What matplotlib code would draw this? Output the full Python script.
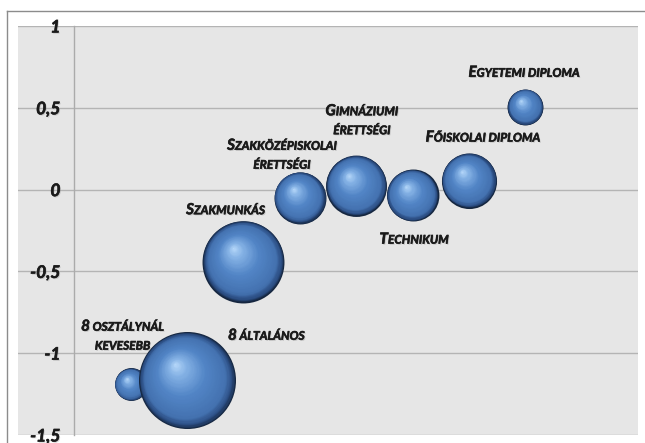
import matplotlib
matplotlib.use("Agg")
import matplotlib.pyplot as plt
import numpy as np
from matplotlib.transforms import offset_copy
from matplotlib.offsetbox import TextArea, HPacker, VPacker, AnnotationBbox
from matplotlib.lines import Line2D
from matplotlib.colors import LinearSegmentedColormap
import matplotlib.patheffects as pe

# ---- data ----
categories = ["8 osztálynál\nkevesebb", "8 általános", "Szakmunkás",
              "Szakközépiskolai\nérettségi", "Gimnáziumi\nérettségi",
              "Technikum", "Főiskolai diploma", "Egyetemi diploma"]
x_values = [1, 2, 3, 4, 5, 6, 7, 8]
y_values = [-1.19, -1.165, -0.44, -0.05, 0.025, -0.034, 0.055, 0.506]
bubble_sizes = [3.5, 30.7, 21.9, 8.8, 12.1, 8.8, 9.9, 4.2]
y_ticks = [-1.5, -1, -0.5, 0, 0.5, 1]
y_tick_labels = ["-1,5", "-1", "-0,5", "0", "0,5", "1"]

# label offsets (points) relative to bubble centre
label_offsets = [(-6, 35), (57, 32), (-13, 37), (-13, 31), (4, 47),
                 (1, -32), (10, 31), (-1, 24.5)]

W, H, DPI = 645, 443, 100
fig = plt.figure(figsize=(W / DPI, H / DPI), dpi=DPI)
fig.patch.set_facecolor("white")
ax = fig.add_axes([18 / W, 1 - 435 / H, (638 - 18) / W, (435 - 26) / H])
ax.set_facecolor("#e6e6e6")
ax.set_xlim(-1, 10)
ax.set_ylim(-1.5, 1)

text_fx = [pe.SimplePatchShadow(offset=(0.8, -0.8), shadow_rgbFace="#777777", alpha=0.3),
           pe.Stroke(linewidth=0.4, foreground="#1a1a1a"),
           pe.Normal()]

for s in ["top", "right", "bottom"]:
    ax.spines[s].set_visible(False)
ax.spines["left"].set_position(("data", 0))
ax.spines["left"].set_color("#ababab")
ax.spines["left"].set_linewidth(1)
ax.set_xticks([])
ax.set_yticks(y_ticks)
ax.set_yticklabels(y_tick_labels)
ax.tick_params(axis="y", length=0, pad=10)
for lab in ax.get_yticklabels():
    lab.set_fontfamily("Lato")
    lab.set_fontweight("bold")
    lab.set_fontstyle("italic")
    lab.set_fontsize(12.5)
    lab.set_color("#1a1a1a")
    lab.set_path_effects(text_fx)
ax.yaxis.grid(True, color="#b4b4b4", linewidth=1)
ax.set_axisbelow(True)

# ---- spheres ----
cmap = LinearSegmentedColormap.from_list("sphere", [
    (0.0, "#15263f"), (0.05, "#294a7e"), (0.16, "#4472b0"),
    (0.5, "#5285c6"), (0.82, "#86b3e6"), (1.0, "#b8d9fa")])
max_r_pt = 48.5 * 72 / DPI
max_size = max(bubble_sizes)
N = 60
for i, (x, y, sz) in enumerate(zip(x_values, y_values, bubble_sizes)):
    R = max_r_pt * np.sqrt(sz / max_size)
    for k in range(N):
        t = k / N
        r = R * (1 - t)
        dx, dy = -0.25 * R * t, 0.33 * R * t
        tr = offset_copy(ax.transData, fig=fig, x=dx, y=dy, units="points")
        ax.scatter([x], [y], s=(2 * r) ** 2, color=cmap(t), linewidths=0,
                   transform=tr, zorder=3 + i)


# ---- small-caps labels ----
def smallcaps_line(line, big=11, small=8.6):
    segs = []
    for ch in line:
        isbig = ch.isupper() or ch.isdigit()
        if segs and segs[-1][1] == isbig:
            segs[-1][0] += ch if isbig else ch.upper()
        else:
            segs.append([ch if isbig else ch.upper(), isbig])
    parts = []
    for txt, isbig in segs:
        ta = TextArea(txt, textprops=dict(
            fontfamily="Lato", fontweight="bold", fontstyle="italic",
            fontsize=big if isbig else small, color="#1a1a1a",
            path_effects=text_fx))
        parts.append(ta)
    return HPacker(children=parts, align="baseline", pad=0, sep=0)


for i, (x, y, name) in enumerate(zip(x_values, y_values, categories)):
    lines = [smallcaps_line(l) for l in name.split("\n")]
    box = VPacker(children=lines, align="center", pad=0, sep=5)
    ab = AnnotationBbox(box, (x, y), xybox=label_offsets[i],
                        xycoords="data", boxcoords="offset points",
                        frameon=False, box_alignment=(0.5, 0.5), zorder=20)
    ax.add_artist(ab)

# outer chart frame (top and left edges visible)
fig.add_artist(Line2D([7 / W, 1], [1 - 11 / H, 1 - 11 / H],
                      transform=fig.transFigure, color="#8c8c8c", lw=1))
fig.add_artist(Line2D([7 / W, 7 / W], [0, 1 - 11 / H],
                      transform=fig.transFigure, color="#8c8c8c", lw=1))

fig.savefig("out.png", dpi=DPI)
